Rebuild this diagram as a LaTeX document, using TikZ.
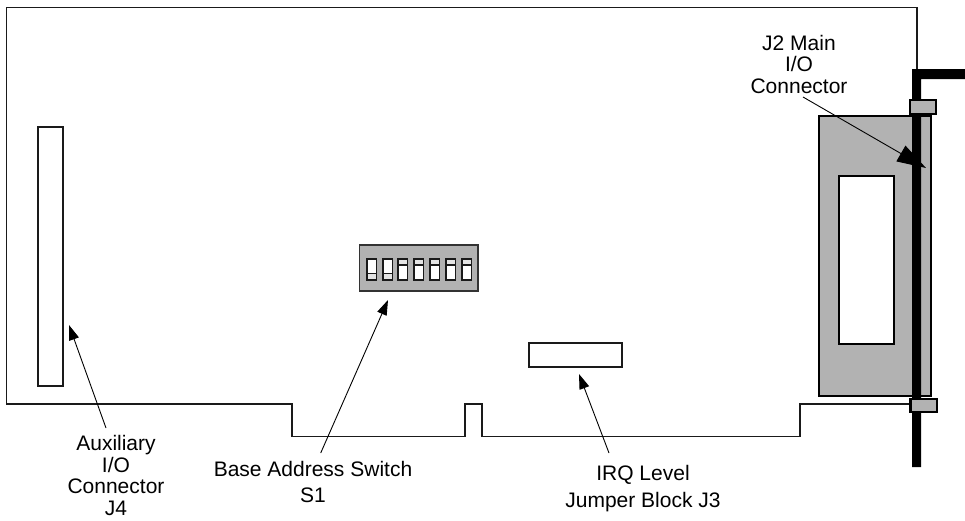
\documentclass[tikz,border=0pt]{standalone}
\usepackage{fontspec}
\setmainfont{Liberation Sans}
\usetikzlibrary{arrows.meta}
\definecolor{panelgray}{HTML}{B2B2B2}
\definecolor{knobgray}{HTML}{E4E4E4}
\definecolor{edge}{HTML}{1A1A1A}
\tikzset{
  board/.style={draw=edge,line width=1.3pt,line join=miter},
  plainbox/.style={draw=edge,line width=1.3pt,fill=white,inner sep=0pt},
  bracketbox/.style={draw=black,line width=2pt,fill=panelgray},
  lab/.style={font=\fontsize{21}{21.4}\selectfont,align=center,inner sep=0pt,anchor=base},
  thinarrow/.style={draw=black,line width=0.9pt,-{Stealth[length=15pt,width=10pt,inset=0pt]}},
  bigarrow/.style={draw=black,line width=0.9pt,-{Stealth[length=29pt,width=18pt,inset=0pt]}},
  sw/.style={draw=edge,line width=1.4pt,fill=white},
  knob/.style={draw=edge,line width=1.4pt,fill=knobgray}
}
\begin{document}
\begin{tikzpicture}[x=1pt,y=-1pt]
\useasboundingbox (0,0) rectangle (965,520);
\fill[white] (0,0) rectangle (965,520);
% board outline
\draw[board] (917,70) -- (917,7.5) -- (6.5,7.5) -- (6.5,404) -- (292,404) -- (292,436.5) -- (465,436.5) -- (465,404) -- (482,404) -- (482,436.5) -- (800,436.5) -- (800,404) -- (910,404);
% J4
\draw[plainbox] (38,127) rectangle (63,386);
\coordinate (j4tip) at (69,325);
\coordinate (j4start) at (106,428);
% DIP switch
\draw[draw=black!80,line width=1.3pt,fill=panelgray] (359.5,245) rectangle (478,291);
\foreach \x/\k in {367/1,383/1,398/0,414/0,430/0,446/0,462/0}{
  \draw[sw] (\x,259) rectangle (\x+9.5,280);
  \ifnum\k=1
    \draw[knob] (\x,273.5) rectangle (\x+9.5,280);
  \else
    \draw[knob] (\x,259) rectangle (\x+9.5,265);
  \fi
}
\coordinate (s1tip) at (388,300);
\coordinate (s1start) at (320.7,453);
% J3
\draw[plainbox] (529,343) rectangle (622,367);
\coordinate (j3tip) at (579,374);
\coordinate (j3start) at (609,453);
% J2 connector
\draw[draw=black,line width=2pt,fill=panelgray] (819,115.5) rectangle (931,396);
\draw[draw=black,line width=1.3pt,fill=white] (839,176) rectangle (894,344);
\fill[black] (912,69) -- (965,69) -- (965,79) -- (921,79) -- (921,467) -- (912,467) -- cycle;
\draw[bracketbox] (910.3,99.7) rectangle (936.3,114.3);
\draw[bracketbox,line width=2.6pt] (910.5,399) rectangle (937,412);
\coordinate (j2tip) at (926,168);
\coordinate (j2start) at (803,97);
% labels
\node[lab] (auxlab) at (116,515) {Auxiliary\\I/O\\Connector\\J4};
\node[lab] (baselab) at (313,502) {Base Address Switch\\[4.6pt]S1};
\node[lab] (irqlab) at (643,507) {IRQ Level\\[5.6pt]Jumper Block J3};
\node[lab] (j2lab) at (799,93) {J2 Main\\I/O\\Connector};
% arrows
\draw[thinarrow] (j4start) -- (j4tip);
\draw[thinarrow] (s1start) -- (s1tip);
\draw[thinarrow] (j3start) -- (j3tip);
\draw[bigarrow] (j2start) -- (j2tip);
\end{tikzpicture}
\end{document}
